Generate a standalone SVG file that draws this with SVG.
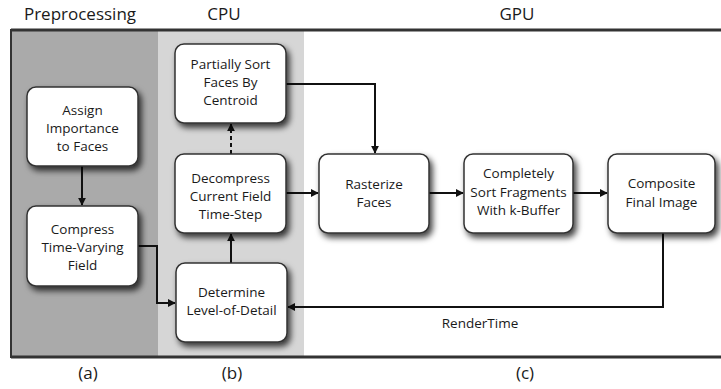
<svg xmlns="http://www.w3.org/2000/svg" width="721" height="389" viewBox="0 0 721 389">
<defs>
<filter id="sh" x="-20%" y="-20%" width="150%" height="150%">
<feDropShadow dx="3" dy="4" stdDeviation="3" flood-color="#000" flood-opacity="0.75"/>
</filter>
<marker id="ah" viewBox="0 0 10 10" refX="9" refY="5" markerWidth="8" markerHeight="8" markerUnits="userSpaceOnUse" orient="auto">
<path d="M0,0 L10,5 L0,10 Z" fill="#111"/>
</marker>
</defs>
<style>
.box{fill:#fff;stroke:#333;stroke-width:1.5;filter:url(#sh)}
.t{font-family:"Open Sans","Liberation Sans",sans-serif;font-size:13.5px;fill:#1a1a1a;text-anchor:middle}
.h{font-family:"Open Sans","Liberation Sans",sans-serif;font-size:17px;fill:#1a1a1a;text-anchor:middle}
.c{fill:none;stroke:#111;stroke-width:2;marker-end:url(#ah)}
</style>
<rect x="0" y="0" width="721" height="389" fill="#fff"/>
<g id="panels">
<rect x="11" y="30" width="147" height="327" fill="#aaaaaa"/>
<rect x="158" y="30" width="146" height="327" fill="#d6d6d6"/>
<line x1="11" y1="30" x2="721" y2="30" stroke="#333" stroke-width="3"/>
<line x1="11" y1="357" x2="721" y2="357" stroke="#333" stroke-width="3"/>
<line x1="11" y1="29" x2="11" y2="358" stroke="#333" stroke-width="2"/>
</g>
<g id="labels">
<text class="h" x="80" y="20">Preprocessing</text>
<text class="h" x="224" y="20">CPU</text>
<text class="h" x="517" y="20">GPU</text>
<text class="h" x="88" y="379">(a)</text>
<text class="h" x="232" y="379">(b)</text>
<text class="h" x="525" y="379">(c)</text>
<text class="t" x="480" y="328">RenderTime</text>
</g>
<g id="connectors">
<line class="c" x1="82" y1="166" x2="82" y2="205"/>
<polyline class="c" points="138,246 157,246 157,303 175,303"/>
<line class="c" x1="231" y1="263" x2="231" y2="234"/>
<line class="c" x1="231" y1="154" x2="231" y2="124" stroke-dasharray="4,3"/>
<polyline class="c" points="286,84 375,84 375,153"/>
<line class="c" x1="286" y1="193" x2="318" y2="193"/>
<line class="c" x1="429" y1="193" x2="463" y2="193"/>
<line class="c" x1="573" y1="193" x2="607" y2="193"/>
<polyline class="c" points="663,233 663,307 288,307"/>
</g>
<g id="n-assign">
<rect class="box" x="27" y="87" width="111" height="79" rx="9"/>
<text class="t" x="82.5" y="115">Assign</text>
<text class="t" x="82.5" y="133">Importance</text>
<text class="t" x="82.5" y="151">to Faces</text>
</g>
<g id="n-compress">
<rect class="box" x="27" y="206" width="111" height="80" rx="9"/>
<text class="t" x="82.5" y="234">Compress</text>
<text class="t" x="82.5" y="252">Time-Varying</text>
<text class="t" x="82.5" y="270">Field</text>
</g>
<g id="n-partial">
<rect class="box" x="175" y="44" width="111" height="79" rx="9"/>
<text class="t" x="230.5" y="69">Partially Sort</text>
<text class="t" x="230.5" y="87">Faces By</text>
<text class="t" x="230.5" y="105">Centroid</text>
</g>
<g id="n-decompress">
<rect class="box" x="175" y="154" width="111" height="79" rx="9"/>
<text class="t" x="230.5" y="183">Decompress</text>
<text class="t" x="230.5" y="201">Current Field</text>
<text class="t" x="230.5" y="219">Time-Step</text>
</g>
<g id="n-determine">
<rect class="box" x="176" y="263" width="111" height="79" rx="9"/>
<text class="t" x="231.5" y="297">Determine</text>
<text class="t" x="231.5" y="315">Level-of-Detail</text>
</g>
<g id="n-rasterize">
<rect class="box" x="319" y="154" width="110" height="79" rx="9"/>
<text class="t" x="374" y="189">Rasterize</text>
<text class="t" x="374" y="207">Faces</text>
</g>
<g id="n-complete">
<rect class="box" x="464" y="154" width="109" height="79" rx="9"/>
<text class="t" x="518.5" y="178">Completely</text>
<text class="t" x="518.5" y="197">Sort Fragments</text>
<text class="t" x="518.5" y="215">With k-Buffer</text>
</g>
<g id="n-composite">
<rect class="box" x="608" y="154" width="107" height="79" rx="9"/>
<text class="t" x="661.5" y="188">Composite</text>
<text class="t" x="661.5" y="207">Final Image</text>
</g>
</svg>
